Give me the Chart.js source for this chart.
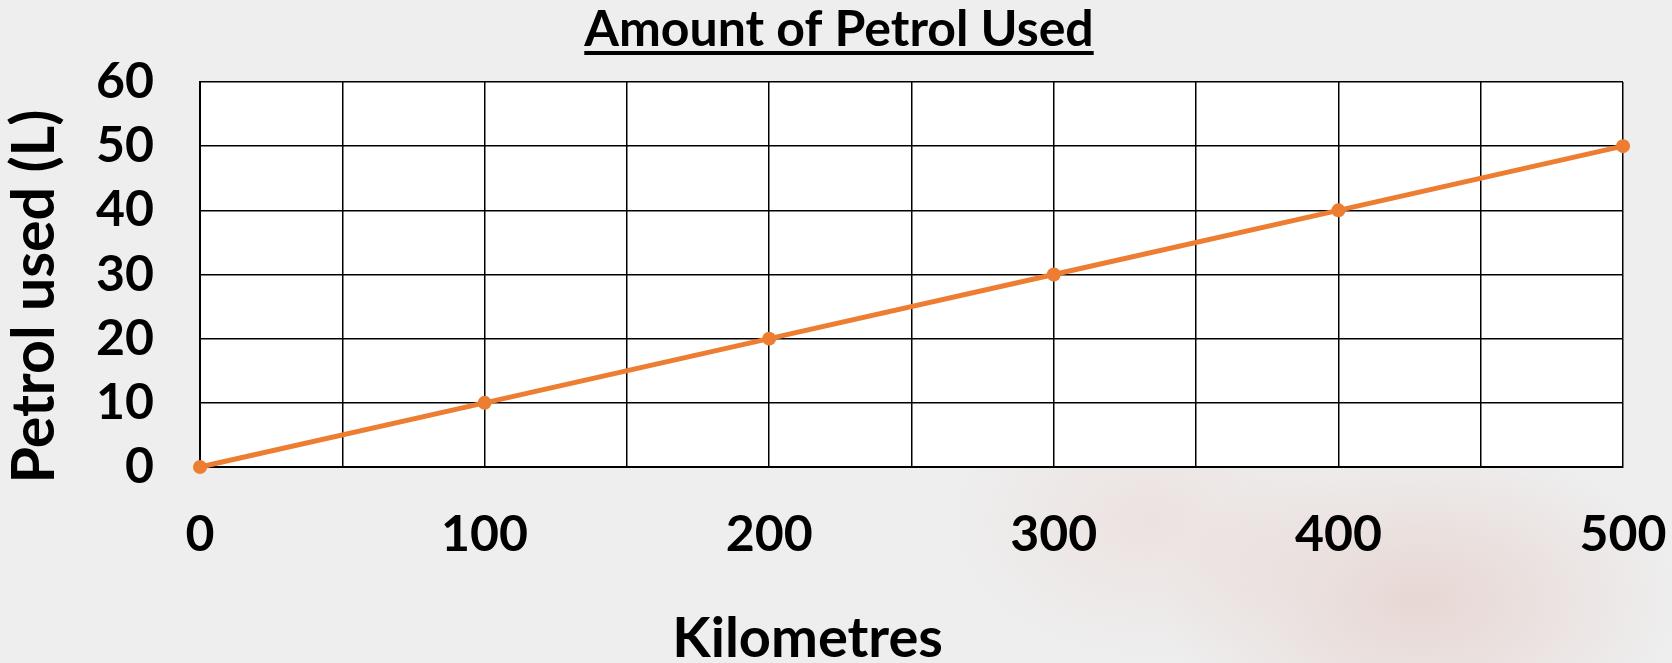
<!DOCTYPE html>
<html>
<head>
<meta charset="utf-8">
<script src="https://cdn.jsdelivr.net/npm/chart.js@4/dist/chart.umd.min.js"></script>
<style>
    html, body { margin: 0; padding: 0; background: #eeeeee; }
    #wrap {
        width: 1672px; height: 663px; position: relative;
        background:
            radial-gradient(ellipse 260px 160px at 1420px 600px, rgba(226, 196, 190, 0.55), rgba(238, 238, 238, 0)),
            radial-gradient(ellipse 200px 140px at 1150px 520px, rgba(232, 205, 200, 0.35), rgba(238, 238, 238, 0)),
            #eeeeee;
    }
</style>
</head>
<body>
<div id="wrap"><canvas id="petrolChart" width="1672" height="663"></canvas></div>
<script>
// chart data
const kilometres = [0, 100, 200, 300, 400, 500];
const petrolUsed = [0, 10, 20, 30, 40, 50];
const yTicks = [0, 10, 20, 30, 40, 50, 60];
const xLabelTicks = [0, 100, 200, 300, 400, 500];

const chartTitle = 'Amount of Petrol Used';
const xTitle = 'Kilometres';
const yTitle = 'Petrol used (L)';

const FONT = 'Lato, "Liberation Sans", sans-serif';

// white plot area + custom titles
const decorPlugin = {
    id: 'decor',
    beforeDraw(chart) {
        const { ctx, chartArea: a } = chart;
        ctx.save();
        ctx.fillStyle = '#ffffff';
        ctx.fillRect(a.left, a.top, a.right - a.left, a.bottom - a.top);
        ctx.restore();
    },
    afterDraw(chart) {
        const { ctx, chartArea: a } = chart;
        ctx.save();
        ctx.fillStyle = '#000';
        ctx.textBaseline = 'alphabetic';

        // title, underlined
        ctx.font = 'bold 50px ' + FONT;
        ctx.textAlign = 'center';
        const tx = chart.width / 2 + 3;
        const ty = 46;
        ctx.fillText(chartTitle, tx, ty);
        const tw = ctx.measureText(chartTitle).width;
        ctx.fillRect(tx - tw / 2, ty + 5, tw, 4);

        // x axis title
        ctx.font = 'bold 56px ' + FONT;
        ctx.fillText(xTitle, a.left + (a.right - a.left) * 0.427, 657);

        // y axis title
        ctx.font = 'bold 59px ' + FONT;
        ctx.translate(54, (a.top + a.bottom) / 2 + 22);
        ctx.rotate(-Math.PI / 2);
        ctx.fillText(yTitle, 0, 0);
        ctx.restore();
    }
};

new Chart(document.getElementById('petrolChart').getContext('2d'), {
    type: 'line',
    data: {
        datasets: [{
            label: 'Petrol used',
            data: kilometres.map((k, i) => ({ x: k, y: petrolUsed[i] })),
            borderColor: '#ed7d31',
            backgroundColor: '#ed7d31',
            borderWidth: 5,
            pointRadius: 7,
            pointBackgroundColor: '#ed7d31',
            pointBorderWidth: 0,
            tension: 0,
            clip: false
        }]
    },
    options: {
        responsive: false,
        animation: false,
        layout: {
            padding: { top: 82, right: 49, left: 0, bottom: 0 }
        },
        plugins: {
            legend: { display: false },
            title: { display: false },
            tooltip: { enabled: false }
        },
        scales: {
            x: {
                type: 'linear',
                min: 0,
                max: 500,
                afterFit: (s) => {
                    s.height = 196;
                    // let the "500" label hang over the right margin
                    s.paddingLeft = 0;
                    s.paddingRight = 0;
                },
                ticks: {
                    stepSize: 50,
                    padding: 38,
                    color: '#000',
                    font: { family: FONT, size: 50, weight: 'bold' },
                    autoSkip: false,
                    maxRotation: 0,
                    callback: (v) => xLabelTicks.includes(v) ? String(v) : ''
                },
                grid: { color: '#000', lineWidth: 1.5, drawTicks: false },
                border: { color: '#000', width: 2 }
            },
            y: {
                min: 0,
                max: 60,
                afterFit: (s) => { s.width = 200; },
                afterBuildTicks: (s) => { s.ticks = yTicks.map(v => ({ value: v })); },
                ticks: {
                    padding: 46,
                    color: '#000',
                    font: { family: FONT, size: 50, weight: 'bold' }
                },
                grid: { color: '#000', lineWidth: 1.5, drawTicks: false },
                border: { color: '#000', width: 2 }
            }
        }
    },
    plugins: [decorPlugin]
});
</script>
</body>
</html>
